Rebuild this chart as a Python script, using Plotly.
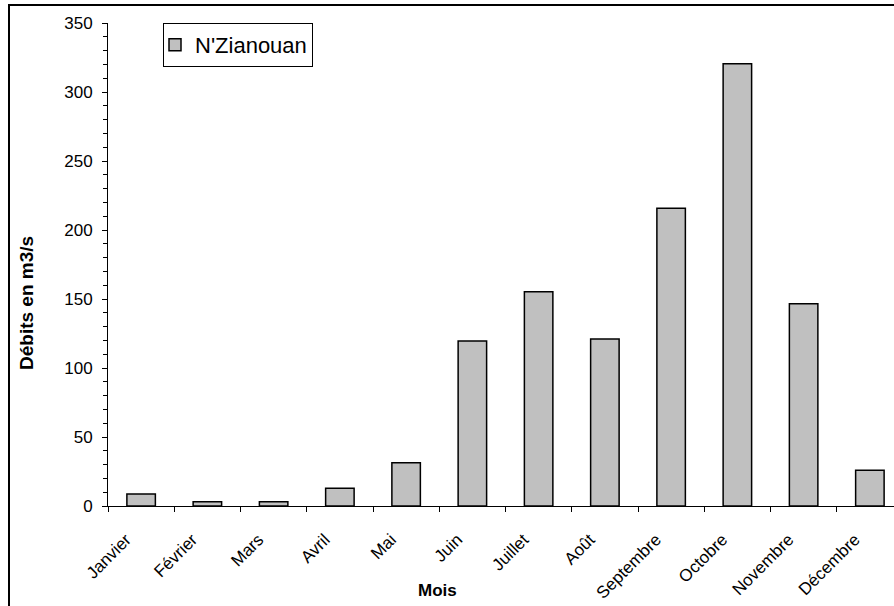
import plotly.graph_objects as go

months = ["Janvier", "Février", "Mars", "Avril", "Mai", "Juin", "Juillet",
          "Août", "Septembre", "Octobre", "Novembre", "Décembre"]
debits = [8.7, 3.1, 3.0, 12.8, 31.4, 119.6, 155.3, 121.0, 215.7, 320.5, 146.6, 25.9]
series_name = "N'Zianouan"
y_ticks = [0, 50, 100, 150, 200, 250, 300, 350]

FONT = "Liberation Sans, Arial, sans-serif"

W, H = 894, 606
L, R, T, B = 108, 0, 23, 100
pw = W - L - R
ph = H - T - B
cat_px = 66.25

fig = go.Figure()
fig.add_trace(go.Bar(
    x=months, y=debits, name=series_name,
    marker=dict(color="#C0C0C0", line=dict(color="black", width=1.5)),
    width=0.43, showlegend=True,
))

fig.update_layout(
    width=W, height=H,
    margin=dict(l=L, r=R, t=T, b=B, pad=0),
    paper_bgcolor="white", plot_bgcolor="white",
    font=dict(family=FONT, size=17, color="black"),
    showlegend=True,
    legend=dict(
        x=(163 - L) / pw, y=1.0, xanchor="left", yanchor="top",
        bordercolor="black", borderwidth=1, bgcolor="white",
        font=dict(family=FONT, size=22, color="black"),
        itemwidth=30, tracegroupgap=0, indentation=-9,
    ),
    xaxis=dict(
        type="category", categoryorder="array", categoryarray=months,
        range=[-0.5, -0.5 + pw / cat_px],
        tickson="boundaries", ticks="outside", ticklen=5, tickwidth=1,
        tickcolor="black", showline=True, linecolor="black", linewidth=1,
        tickangle=-45, showgrid=False, zeroline=False,
        ticklabelshift=-15, ticklabelstandoff=16,
        tickfont=dict(family=FONT, size=17, color="black"),
    ),
    yaxis=dict(
        range=[0, 350], tickvals=y_ticks, ticks="outside", ticklen=5,
        tickwidth=1, tickcolor="black", showline=True, linecolor="black",
        linewidth=1, showgrid=False, zeroline=False,
        ticklabelstandoff=6,
        tickfont=dict(family=FONT, size=17, color="black"),
        minor=dict(dtick=10, ticks="outside", ticklen=4, tickcolor="black",
                   showgrid=False),
    ),
    annotations=[
        dict(text="<b>Débits en m3/s</b>", xref="paper", yref="paper",
             x=(26 - L) / pw, y=(506 - 303) / ph, xanchor="center",
             yanchor="middle", textangle=-90, showarrow=False,
             font=dict(family=FONT, size=19, color="black")),
        dict(text="<b>Mois</b>", xref="paper", yref="paper",
             x=(437 - L) / pw, y=(506 - 590) / ph, xanchor="center",
             yanchor="middle", showarrow=False,
             font=dict(family=FONT, size=17, color="black")),
    ],
    shapes=[
        dict(type="rect", xref="paper", yref="paper",
             x0=(9 - L) / pw, x1=(W + 20 - L) / pw,
             y0=(506 - (H + 20)) / ph, y1=(506 - 5) / ph,
             line=dict(color="black", width=2), fillcolor="rgba(0,0,0,0)",
             layer="above"),
    ],
)

fig.write_html(
    "out.html",
    config={"displayModeBar": False},
    post_script="document.body.style.margin='0';document.body.style.overflow='hidden';",
)
